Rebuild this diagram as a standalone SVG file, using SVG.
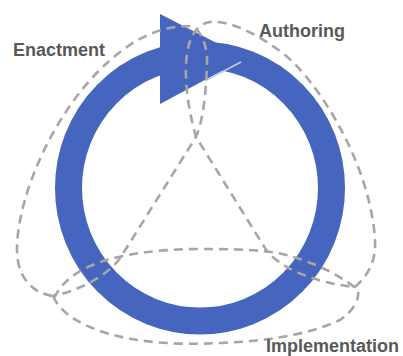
<svg xmlns="http://www.w3.org/2000/svg" width="403" height="356" viewBox="0 0 403 356">
<style>
.lbl{font-family:"Liberation Sans",Arial,sans-serif;font-weight:bold;font-size:18px;fill:#595959}
.loop{fill:none;stroke:#a6a6a6;stroke-width:2.6;stroke-dasharray:9 6;stroke-linejoin:round}
</style>
<rect width="403" height="356" fill="#ffffff"/>
<g id="cycle">
<ellipse cx="200" cy="188" rx="131.5" ry="133" fill="none" stroke="#4565BF" stroke-width="27"/>
<polygon points="160,14 160,104 246,58" fill="#4565BF"/>
<line x1="205" y1="81" x2="241" y2="62" stroke="#c5cbe0" stroke-width="1.5"/>
</g>
<g id="connectors">
<path id="loop-enactment" class="loop" d="M52,296 C30,292 17,275 17,250 C17,195 55,110 107,63 C125,47 150,27 188,26 C200,26 208,45 207,65 C206,90 204,118 196,137 L124,252 C115,270 85,290 52,296 Z"/>
<path id="loop-authoring" class="loop" d="M355,287 C372,272 376,256 375,240 C370,160 315,79 285,55 C260,35 230,20 210,22 C195,24 187,40 186,65 C185,90 190,115 196,137 L265,248 C278,268 315,283 355,287 Z"/>
<path id="loop-implementation" class="loop" d="M54,298 C62,282 75,272 95,264 C120,254 160,249 200,249 C240,249 270,250 290,256 C315,263 340,275 358,290 C360,300 352,312 340,320 C310,334 270,341 220,343 C180,345 140,343 110,334 C85,327 62,315 54,298 Z"/>
</g>
<g id="enactment"><text class="lbl" x="13" y="56">Enactment</text></g>
<g id="authoring"><text class="lbl" x="259" y="37">Authoring</text></g>
<g id="implementation"><text class="lbl" x="266" y="352">Implementation</text></g>
</svg>
